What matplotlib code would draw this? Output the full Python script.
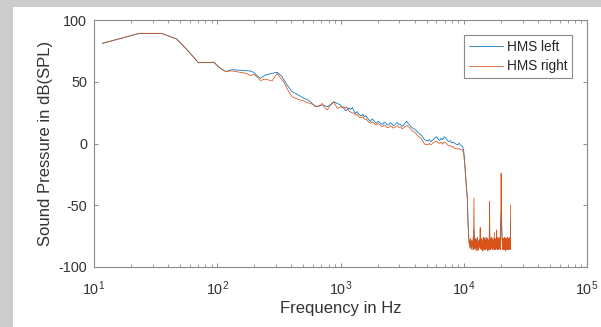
import numpy as np
import matplotlib
matplotlib.use("Agg")
import matplotlib.pyplot as plt
from matplotlib.patches import Rectangle

plt.rcParams['font.family'] = ['Liberation Sans', 'DejaVu Sans']
plt.rcParams['axes.unicode_minus'] = False
plt.rcParams['mathtext.fontset'] = 'custom'
plt.rcParams['mathtext.rm'] = 'Liberation Sans'

# low end, both channels identical (FFT bins)
low_f = [11.7, 23.4, 35.2, 46.9, 58.6, 70.3, 82.0, 93.8, 105.5, 117.2]
low_db = [81.1, 89.2, 89.2, 84.6, 74.5, 65.4, 65.6, 65.8, 61.0, 58.3]

# 120 Hz - 1 kHz
mid_f_left = [131, 145, 159, 172, 185, 197, 210, 224, 246, 262, 278, 306, 320, 336,
              360, 380, 405, 431, 470, 503, 540, 571, 600, 627, 670, 710, 750, 780, 830, 883, 940]
mid_db_left = [59.8, 59.5, 59.3, 59.0, 58.7, 57.7, 55.0, 52.8, 55.5, 56.2, 56.8, 57.7, 56.0, 54.1,
               49.0, 45.5, 42.0, 40.6, 38.5, 36.6, 35.5, 33.8, 31.5, 29.8, 30.5, 31.2, 30.5, 29.8, 31.5, 33.8, 32.5]
mid_f_right = [131, 145, 159, 172, 185, 197, 210, 224, 246, 262, 278, 306, 320, 346,
               380, 405, 431, 473, 503, 540, 571, 600, 647, 680, 710, 745, 780, 830, 883, 940]
mid_db_right = [58.8, 58.1, 57.3, 56.8, 55.0, 56.0, 54.0, 51.0, 52.2, 51.4, 50.6, 56.8, 54.0, 50.0,
                42.0, 37.9, 36.6, 35.2, 34.5, 33.0, 32.5, 31.5, 29.8, 30.4, 32.5, 29.0, 27.1, 31.2, 33.8, 28.5]

# 1 kHz - 10 kHz
hi_f = [1000, 1030, 1060, 1090, 1120, 1150, 1180, 1210, 1250, 1290, 1320, 1360, 1400, 1440,
        1480, 1520, 1570, 1610, 1660, 1700, 1750, 1800, 1850, 1900, 1960, 2020, 2080, 2140,
        2200, 2260, 2320, 2390, 2460, 2530, 2600, 2670, 2750, 2820, 2900, 2980, 3070, 3160,
        3250, 3340, 3440, 3540, 3640, 3740, 3850, 3960, 4070, 4180, 4300, 4420, 4550, 4680,
        4820, 4960, 5100, 5250, 5400, 5550, 5700, 5860, 6030, 6200, 6380, 6560, 6750, 6940,
        7140, 7340, 7550, 7770, 8000, 8220, 8450, 8690, 8940, 9190, 9450, 9620, 9800]
hi_db_left = [31.2, 29.5, 28.5, 27.0, 26.6, 28.0, 28.8, 27.5, 29.3, 26.0, 24.5, 25.8, 24.0, 23.0,
              22.5, 23.5, 21.7, 22.4, 20.5, 19.2, 18.0, 19.8, 19.0, 17.5, 16.5, 17.9, 17.2, 15.9,
              15.5, 17.3, 16.8, 15.0, 15.2, 16.9, 16.0, 14.6, 15.0, 16.2, 17.0, 15.3, 15.5, 14.0,
              14.8, 16.5, 18.0, 16.2, 15.0, 13.5, 12.5, 11.8, 11.0, 9.6, 8.5, 7.6, 6.5, 4.8,
              3.0, 2.6, 2.0, 3.2, 1.5, 2.5, 3.5, 4.6, 5.5, 3.6, 2.5, 4.3, 3.0, 5.5,
              4.5, 2.8, 1.5, 2.3, 0.5, 1.2, 0.0, -0.6, -1.0, 0.2, -1.5, -1.8, -2.6]
hi_db_right = [29.8, 29.0, 30.0, 28.5, 29.5, 27.8, 26.0, 25.5, 24.5, 24.8, 23.0, 23.6, 22.0, 21.0,
               21.0, 21.8, 19.5, 19.9, 18.5, 17.0, 16.4, 17.5, 16.8, 15.6, 15.0, 16.2, 15.5, 14.0,
               13.6, 15.0, 14.5, 12.8, 13.0, 14.4, 13.8, 12.5, 13.0, 13.8, 14.5, 13.0, 13.6, 12.0,
               12.5, 13.8, 14.5, 13.8, 13.0, 11.2, 10.0, 9.5, 8.5, 6.8, 5.5, 4.8, 3.5, 1.5,
               -0.5, -0.8, -1.2, 0.0, -1.0, -0.2, 0.8, 1.6, 2.0, 0.6, 0.2, 1.0, -0.5, 1.2,
               0.5, -0.8, -2.0, -1.6, -3.0, -2.6, -3.9, -4.2, -4.5, -4.0, -5.3, -5.0, -5.5]

# roll-off above 10 kHz
drop_f = [10000, 10190, 10380, 10710, 10830, 11040]
drop_db_left = [-6, -15, -27, -45, -64, -80]
drop_db_right = [-9, -18, -29, -46, -65, -80]

# noise floor 11 - 24 kHz
noise_f_left = [11100, 11300, 11500, 11700, 11900, 12100, 12200, 12400, 12600, 12800, 13000, 13200,
                13400, 13600, 13800, 14000, 14200, 14400, 14600, 14800, 15000, 15200, 15400, 15600,
                15800, 16000, 16200, 16300, 16500, 16700, 16900, 17100, 17300, 17500, 17700, 17900,
                18100, 18300, 18500, 18700, 18900, 19100, 19300, 19500, 19700, 19900, 20100, 20300,
                20500, 20700, 20900, 21100, 21300, 21500, 21700, 21900, 22100, 22300, 22500, 22700,
                22900, 23100, 23300, 23500, 23700, 23900, 24000]
noise_db_left = [-82, -78, -85, -79, -86, -70, -78, -85, -77, -84, -79, -86,
                 -78, -80, -77, -85, -79, -84, -76, -86, -78, -83, -77, -85,
                 -79, -84, -66, -78, -85, -77, -84, -79, -86, -78, -80, -77,
                 -85, -79, -78, -77, -85, -79, -84, -77, -80, -66, -56, -70,
                 -78, -85, -77, -84, -79, -86, -78, -84, -77, -85, -79, -84,
                 -78, -86, -77, -84, -79, -85, -62]
noise_f_right = [11100, 11200, 11300, 11400, 11500, 11600, 11700, 11800, 11900, 12000,
                 12100, 12200, 12300, 12400, 12500, 12600, 12700, 12800, 12900, 13000,
                 13100, 13200, 13300, 13400, 13500, 13600, 13700, 13800, 13900, 14000,
                 14100, 14200, 14300, 14400, 14500, 14600, 14700, 14800, 14900, 15000,
                 15100, 15200, 15300, 15400, 15500, 15600, 15700, 15800, 15900, 16000,
                 16100, 16200, 16300, 16400, 16500, 16600, 16700, 16800, 16900, 17000,
                 17100, 17200, 17300, 17400, 17500, 17600, 17700, 17800, 17900, 18000,
                 18100, 18200, 18300, 18400, 18500, 18600, 18700, 18800, 18900, 19000,
                 19100, 19200, 19300, 19400, 19500, 19600, 19700, 19800, 19900, 20000,
                 20100, 20200, 20300, 20400, 20500, 20600, 20700, 20800, 20900, 21000,
                 21100, 21200, 21300, 21400, 21500, 21600, 21700, 21800, 21900, 22000,
                 22100, 22200, 22300, 22400, 22500, 22600, 22700, 22800, 22900, 23000,
                 23100, 23200, 23300, 23400, 23500, 23600, 23700, 23800, 23900, 24000]
noise_db_right = [-80, -85, -77, -84, -78, -86, -79, -83, -76, -86,
                  -44, -85, -78, -86, -77, -84, -79, -87, -76, -85,
                  -78, -86, -80, -84, -77, -68, -85, -78, -86, -77,
                  -84, -79, -87, -76, -85, -78, -86, -77, -84, -80,
                  -86, -76, -85, -79, -84, -77, -87, -78, -85, -79,
                  -86, -47, -84, -77, -86, -78, -85, -76, -84, -79,
                  -86, -77, -85, -79, -84, -78, -72, -86, -77, -85,
                  -78, -86, -77, -84, -70, -85, -78, -86, -76, -84,
                  -79, -86, -77, -85, -78, -84, -76, -86, -74, -70,
                  -24, -66, -62, -72, -78, -85, -77, -86, -79, -84,
                  -77, -86, -78, -85, -76, -84, -79, -87, -77, -85,
                  -78, -86, -77, -84, -79, -86, -76, -85, -78, -84,
                  -77, -86, -79, -85, -78, -84, -76, -86, -78, -50]

f_left = low_f + mid_f_left + hi_f + drop_f + noise_f_left
db_left = low_db + mid_db_left + hi_db_left + drop_db_left + noise_db_left
f_right = low_f + mid_f_right + hi_f + drop_f + noise_f_right
db_right = low_db + mid_db_right + hi_db_right + drop_db_right + noise_db_right

fig = plt.figure(figsize=(6.01, 3.27), dpi=100, facecolor='#cccccc')
fig.patches.append(Rectangle((13 / 601, 0), 1, 320 / 327, transform=fig.transFigure,
                             facecolor='white', edgecolor='none', zorder=-1))
ax = fig.add_axes([94 / 601, 60 / 327, 493 / 601, 247 / 327])

ax.semilogx(f_left, db_left, color='#0072BD', lw=0.55, label='HMS left')
ax.semilogx(f_right, db_right, color='#D95319', lw=0.55, label='HMS right')

ax.set_xlim(10, 1e5)
ax.set_ylim(-100, 100)
ax.set_yticks([-100, -50, 0, 50, 100])
ax.set_xlabel('Frequency in Hz', fontsize=12, color='#333333', labelpad=2)
ax.set_ylabel('Sound Pressure in dB(SPL)', fontsize=12, color='#333333', labelpad=4)

for s in ax.spines.values():
    s.set_color('#8a8a8a')
    s.set_linewidth(0.8)
ax.tick_params(which='both', direction='in', top=True, right=True, color='#8a8a8a',
               labelcolor='#333333', labelsize=10.4)
ax.tick_params(which='major', length=3, width=0.7)
ax.tick_params(which='minor', length=2, width=0.6)
ax.tick_params(axis='y', pad=5)
ax.tick_params(axis='x', pad=9)

leg = ax.legend(loc='upper right', bbox_to_anchor=(0.9696, 0.939), borderaxespad=0,
                fontsize=9.8, handlelength=2.5, handletextpad=0.3, labelspacing=0.4,
                borderpad=0.35, fancybox=False, framealpha=1)
leg.get_frame().set_edgecolor('#8a8a8a')
leg.get_frame().set_linewidth(0.8)
for t in leg.get_texts():
    t.set_color('#262626')

fig.savefig('out.png', dpi=100, facecolor=fig.get_facecolor())
